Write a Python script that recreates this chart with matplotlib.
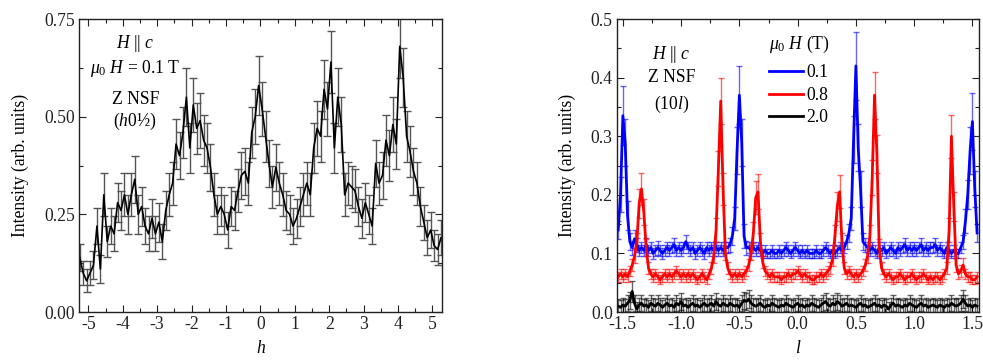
import numpy as np
import matplotlib
matplotlib.use("Agg")
import matplotlib.pyplot as plt
from matplotlib.ticker import MultipleLocator, FormatStrFormatter

plt.rcParams['font.family'] = ['Liberation Serif', 'DejaVu Serif']
plt.rcParams['mathtext.fontset'] = 'custom'
plt.rcParams['mathtext.rm'] = 'Liberation Serif'
plt.rcParams['mathtext.it'] = 'Liberation Serif:italic'
plt.rcParams['axes.unicode_minus'] = False
FS = 12.7

# ---------------- left panel data: (h 0 1/2) scan ----------------
h_start, h_step = -5.25, 0.1
left_I = [
    0.14, 0.10, 0.08, 0.10, 0.12, 0.22, 0.11, 0.30, 0.18, 0.22,
    0.20, 0.28, 0.26, 0.30, 0.25, 0.30, 0.34, 0.25, 0.27, 0.22,
    0.20, 0.24, 0.20, 0.23, 0.18, 0.26, 0.30, 0.33, 0.43, 0.40,
    0.46, 0.55, 0.42, 0.53, 0.47, 0.49, 0.44, 0.42, 0.37, 0.30,
    0.25, 0.27, 0.25, 0.21, 0.27, 0.26, 0.31, 0.35, 0.36, 0.33,
    0.46, 0.50, 0.58, 0.52, 0.45, 0.38, 0.32, 0.37, 0.33, 0.30,
    0.26, 0.25, 0.22, 0.24, 0.27, 0.30, 0.33, 0.30, 0.42, 0.47,
    0.45, 0.57, 0.52, 0.64, 0.42, 0.55, 0.48, 0.30, 0.33, 0.32,
    0.31, 0.27, 0.24, 0.28, 0.25, 0.22, 0.38, 0.33, 0.35, 0.44,
    0.40, 0.48, 0.43, 0.68, 0.60, 0.45, 0.41, 0.36, 0.33, 0.27,
    0.23, 0.19, 0.21, 0.17, 0.16, 0.19,
]
left_err = [
    0.035, 0.03, 0.03, 0.03, 0.035, 0.045, 0.035, 0.055, 0.04, 0.045,
    0.045, 0.05, 0.05, 0.055, 0.05, 0.055, 0.06, 0.05, 0.05, 0.045,
    0.045, 0.05, 0.045, 0.05, 0.045, 0.05, 0.055, 0.055, 0.065, 0.06,
    0.065, 0.075, 0.065, 0.07, 0.065, 0.07, 0.065, 0.065, 0.06, 0.055,
    0.05, 0.05, 0.05, 0.045, 0.05, 0.05, 0.055, 0.06, 0.06, 0.055,
    0.065, 0.07, 0.075, 0.07, 0.065, 0.06, 0.055, 0.06, 0.055, 0.055,
    0.05, 0.05, 0.045, 0.05, 0.05, 0.055, 0.055, 0.055, 0.065, 0.07,
    0.065, 0.075, 0.07, 0.08, 0.065, 0.075, 0.07, 0.055, 0.055, 0.055,
    0.055, 0.05, 0.05, 0.05, 0.05, 0.045, 0.06, 0.055, 0.06, 0.065,
    0.065, 0.07, 0.065, 0.08, 0.075, 0.065, 0.065, 0.06, 0.055, 0.05,
    0.045, 0.045, 0.045, 0.04, 0.04, 0.045,
]
h = np.round(h_start + h_step * np.arange(len(left_I)), 3)

# ---------------- right panel data: (1 0 l) scans ----------------
l_start, l_step = -1.54, 0.02
I_01 = [
    0.14, 0.20, 0.335, 0.29, 0.165, 0.12, 0.11, 0.125, 0.115, 0.105,
    0.11, 0.105, 0.115, 0.105, 0.11, 0.10, 0.105, 0.11, 0.105, 0.10,
    0.105, 0.11, 0.105, 0.11, 0.115, 0.105, 0.11, 0.105, 0.11, 0.12,
    0.11, 0.105, 0.11, 0.10, 0.105, 0.11, 0.105, 0.10, 0.11, 0.105,
    0.11, 0.105, 0.11, 0.105, 0.11, 0.105, 0.11, 0.11, 0.115, 0.13,
    0.16, 0.275, 0.37, 0.29, 0.13, 0.11, 0.11, 0.105, 0.11, 0.105,
    0.11, 0.105, 0.10, 0.105, 0.10, 0.10, 0.105, 0.10, 0.10, 0.105,
    0.10, 0.105, 0.11, 0.105, 0.10, 0.105, 0.11, 0.105, 0.10, 0.105,
    0.10, 0.105, 0.10, 0.10, 0.10, 0.105, 0.10, 0.10, 0.105, 0.11,
    0.105, 0.10, 0.105, 0.10, 0.105, 0.11, 0.105, 0.11, 0.12, 0.135,
    0.16, 0.295, 0.42, 0.28, 0.21, 0.12, 0.115, 0.11, 0.105, 0.11,
    0.105, 0.10, 0.11, 0.105, 0.11, 0.10, 0.105, 0.11, 0.105, 0.10,
    0.11, 0.105, 0.11, 0.115, 0.105, 0.11, 0.105, 0.11, 0.105, 0.11,
    0.115, 0.105, 0.11, 0.105, 0.11, 0.11, 0.115, 0.105, 0.11, 0.105,
    0.10, 0.11, 0.105, 0.10, 0.105, 0.10, 0.10, 0.11, 0.12, 0.155,
    0.20, 0.275, 0.325, 0.21, 0.135,
]
I_08 = [
    0.06, 0.065, 0.06, 0.065, 0.06, 0.07, 0.08, 0.095, 0.12, 0.185,
    0.21, 0.17, 0.11, 0.075, 0.065, 0.06, 0.065, 0.06, 0.055, 0.06,
    0.065, 0.06, 0.065, 0.06, 0.065, 0.07, 0.065, 0.06, 0.065, 0.06,
    0.065, 0.06, 0.065, 0.06, 0.055, 0.06, 0.065, 0.06, 0.055, 0.065,
    0.075, 0.095, 0.14, 0.245, 0.36, 0.21, 0.10, 0.075, 0.065, 0.06,
    0.065, 0.06, 0.065, 0.06, 0.065, 0.07, 0.08, 0.10, 0.135, 0.195,
    0.205, 0.12, 0.085, 0.07, 0.065, 0.06, 0.065, 0.06, 0.06, 0.06,
    0.055, 0.06, 0.06, 0.065, 0.06, 0.065, 0.065, 0.07, 0.065, 0.06,
    0.065, 0.06, 0.06, 0.055, 0.055, 0.06, 0.06, 0.065, 0.06, 0.065,
    0.07, 0.075, 0.09, 0.13, 0.18, 0.205, 0.12, 0.075, 0.065, 0.07,
    0.065, 0.06, 0.065, 0.06, 0.065, 0.07, 0.08, 0.095, 0.13, 0.23,
    0.37, 0.27, 0.11, 0.075, 0.065, 0.06, 0.065, 0.06, 0.055, 0.06,
    0.06, 0.065, 0.06, 0.055, 0.06, 0.06, 0.065, 0.06, 0.055, 0.06,
    0.06, 0.065, 0.06, 0.055, 0.06, 0.055, 0.06, 0.06, 0.055, 0.06,
    0.065, 0.075, 0.14, 0.30, 0.18, 0.08, 0.065, 0.07, 0.08, 0.065,
    0.06, 0.06, 0.055, 0.055, 0.06,
]
I_20 = [
    0.01, 0.008, 0.012, 0.01, 0.015, 0.02, 0.035, 0.015, 0.005, 0.012,
    0.015, 0.01, 0.012, 0.008, 0.015, 0.012, 0.01, 0.015, 0.012, 0.008,
    0.012, 0.015, 0.01, 0.012, 0.008, 0.015, 0.012, 0.018, 0.01, 0.012,
    0.008, 0.012, 0.015, 0.01, 0.012, 0.008, 0.012, 0.015, 0.01, 0.012,
    0.015, 0.01, 0.018, 0.012, 0.01, 0.015, 0.012, 0.01, 0.015, 0.012,
    0.01, 0.012, 0.008, 0.015, 0.02, 0.018, 0.022, 0.015, 0.012, 0.01,
    0.012, 0.015, 0.01, 0.008, 0.012, 0.01, 0.015, 0.012, 0.01, 0.008,
    0.012, 0.01, 0.015, 0.012, 0.01, 0.008, 0.012, 0.015, 0.01, 0.012,
    0.008, 0.012, 0.01, 0.015, 0.012, 0.01, 0.008, 0.012, 0.015, 0.018,
    0.012, 0.01, 0.015, 0.012, 0.018, 0.015, 0.01, 0.012, 0.015, 0.01,
    0.012, 0.01, 0.008, 0.012, 0.015, 0.01, 0.012, 0.008, 0.01, 0.012,
    0.015, 0.01, 0.012, 0.008, 0.012, 0.01, 0.005, 0.012, 0.015, 0.01,
    0.012, 0.01, 0.008, 0.012, 0.01, 0.015, 0.012, 0.01, 0.008, 0.012,
    0.015, 0.01, 0.012, 0.008, 0.01, 0.012, 0.01, 0.008, 0.012, 0.01,
    0.008, 0.012, 0.01, 0.015, 0.012, 0.01, 0.012, 0.015, 0.022, 0.015,
    0.01, 0.012, 0.008, 0.012, 0.01,
]
E_01 = [
    0.015, 0.03, 0.05, 0.04, 0.025, 0.015, 0.012, 0.015, 0.012, 0.01,
    0.01, 0.01, 0.012, 0.01, 0.01, 0.01, 0.01, 0.012, 0.01, 0.01,
    0.01, 0.01, 0.01, 0.01, 0.012, 0.01, 0.01, 0.01, 0.01, 0.012,
    0.01, 0.01, 0.01, 0.01, 0.01, 0.01, 0.01, 0.01, 0.01, 0.01,
    0.01, 0.01, 0.01, 0.01, 0.01, 0.01, 0.01, 0.01, 0.012, 0.015,
    0.02, 0.04, 0.05, 0.04, 0.02, 0.012, 0.01, 0.01, 0.01, 0.01,
    0.01, 0.01, 0.008, 0.01, 0.008, 0.008, 0.01, 0.008, 0.008, 0.01,
    0.008, 0.01, 0.01, 0.01, 0.008, 0.01, 0.01, 0.01, 0.008, 0.01,
    0.008, 0.01, 0.008, 0.008, 0.008, 0.01, 0.008, 0.008, 0.01, 0.01,
    0.01, 0.008, 0.01, 0.008, 0.01, 0.01, 0.01, 0.01, 0.012, 0.015,
    0.02, 0.04, 0.058, 0.04, 0.03, 0.015, 0.012, 0.01, 0.01, 0.01,
    0.01, 0.008, 0.01, 0.01, 0.01, 0.008, 0.01, 0.01, 0.01, 0.008,
    0.01, 0.01, 0.01, 0.012, 0.01, 0.01, 0.01, 0.01, 0.01, 0.01,
    0.012, 0.01, 0.01, 0.01, 0.01, 0.01, 0.012, 0.01, 0.01, 0.01,
    0.008, 0.01, 0.01, 0.008, 0.01, 0.008, 0.008, 0.01, 0.012, 0.02,
    0.025, 0.04, 0.048, 0.03, 0.015,
]
E_08 = [
    0.008, 0.008, 0.008, 0.008, 0.008, 0.008, 0.01, 0.012, 0.015, 0.025,
    0.028, 0.022, 0.015, 0.01, 0.008, 0.008, 0.008, 0.008, 0.008, 0.008,
    0.008, 0.008, 0.008, 0.008, 0.008, 0.008, 0.008, 0.008, 0.008, 0.008,
    0.008, 0.008, 0.008, 0.008, 0.008, 0.008, 0.008, 0.008, 0.008, 0.008,
    0.01, 0.012, 0.02, 0.03, 0.04, 0.028, 0.012, 0.01, 0.008, 0.008,
    0.008, 0.008, 0.008, 0.008, 0.008, 0.008, 0.01, 0.012, 0.018, 0.028,
    0.03, 0.015, 0.01, 0.008, 0.008, 0.008, 0.008, 0.008, 0.008, 0.008,
    0.008, 0.008, 0.008, 0.008, 0.008, 0.008, 0.008, 0.008, 0.008, 0.008,
    0.008, 0.008, 0.008, 0.008, 0.008, 0.008, 0.008, 0.008, 0.008, 0.008,
    0.008, 0.01, 0.012, 0.018, 0.025, 0.028, 0.015, 0.01, 0.008, 0.008,
    0.008, 0.008, 0.008, 0.008, 0.008, 0.008, 0.01, 0.012, 0.018, 0.03,
    0.04, 0.032, 0.015, 0.01, 0.008, 0.008, 0.008, 0.008, 0.008, 0.008,
    0.008, 0.008, 0.008, 0.008, 0.008, 0.008, 0.008, 0.008, 0.008, 0.008,
    0.008, 0.008, 0.008, 0.008, 0.008, 0.008, 0.008, 0.008, 0.008, 0.008,
    0.008, 0.01, 0.02, 0.037, 0.025, 0.012, 0.008, 0.01, 0.012, 0.008,
    0.008, 0.008, 0.008, 0.008, 0.008,
]
E_20 = [
    0.012, 0.012, 0.012, 0.012, 0.014, 0.015, 0.018, 0.014, 0.012, 0.012,
    0.014, 0.012, 0.012, 0.012, 0.014, 0.012, 0.012, 0.014, 0.012, 0.012,
    0.012, 0.014, 0.012, 0.012, 0.012, 0.014, 0.012, 0.015, 0.012, 0.012,
    0.012, 0.012, 0.014, 0.012, 0.012, 0.012, 0.012, 0.014, 0.012, 0.012,
    0.014, 0.012, 0.015, 0.012, 0.012, 0.014, 0.012, 0.012, 0.014, 0.012,
    0.012, 0.012, 0.012, 0.014, 0.015, 0.015, 0.016, 0.014, 0.012, 0.012,
    0.012, 0.014, 0.012, 0.012, 0.012, 0.012, 0.014, 0.012, 0.012, 0.012,
    0.012, 0.012, 0.014, 0.012, 0.012, 0.012, 0.012, 0.014, 0.012, 0.012,
    0.012, 0.012, 0.012, 0.014, 0.012, 0.012, 0.012, 0.012, 0.014, 0.015,
    0.012, 0.012, 0.014, 0.012, 0.015, 0.014, 0.012, 0.012, 0.014, 0.012,
    0.012, 0.012, 0.012, 0.012, 0.014, 0.012, 0.012, 0.012, 0.012, 0.012,
    0.014, 0.012, 0.012, 0.012, 0.012, 0.012, 0.012, 0.012, 0.014, 0.012,
    0.012, 0.012, 0.012, 0.012, 0.012, 0.014, 0.012, 0.012, 0.012, 0.012,
    0.014, 0.012, 0.012, 0.012, 0.012, 0.012, 0.012, 0.012, 0.012, 0.012,
    0.012, 0.012, 0.012, 0.014, 0.012, 0.012, 0.012, 0.014, 0.016, 0.014,
    0.012, 0.012, 0.012, 0.012, 0.012,
]
l = np.round(l_start + l_step * np.arange(len(I_01)), 3)
field_labels = ['0.1', '0.8', '2.0']
field_colors = ['#0000ff', '#ff0000', '#000000']

# ---------------- figure ----------------
fig = plt.figure(figsize=(9.83, 3.6), dpi=100)
axL = fig.add_axes([0.0804, 0.1333, 0.3693, 0.8139])
axR = fig.add_axes([0.6277, 0.1333, 0.3683, 0.8139])


def style(ax):
    ax.tick_params(which='both', direction='in', top=True, right=True,
                   labelsize=FS, width=0.8, colors='#222222')
    ax.tick_params(which='major', length=5, pad=3)
    ax.tick_params(which='minor', length=3)
    for s in ax.spines.values():
        s.set_linewidth(1.0)
        s.set_color('#222222')


# left
axL.errorbar(h, left_I, yerr=left_err, color='black', lw=1.2,
             ecolor='#555555', elinewidth=1.0, capsize=3, capthick=1.0, zorder=2)
axL.set_xlim(-5.27, 5.28)
axL.set_ylim(0, 0.75)
axL.xaxis.set_major_locator(MultipleLocator(1))
axL.xaxis.set_minor_locator(MultipleLocator(0.5))
axL.yaxis.set_major_locator(MultipleLocator(0.25))
axL.yaxis.set_minor_locator(MultipleLocator(0.125))
axL.yaxis.set_major_formatter(FormatStrFormatter('%.2f'))
style(axL)
axL.set_ylabel('Intensity (arb. units)', fontsize=FS, labelpad=11)
axL.set_xlabel('$h$', fontsize=FS, labelpad=5)
tx = 0.155
axL.text(tx, 0.915, '$H$ || $c$', transform=axL.transAxes, ha='center', va='center', fontsize=FS)
axL.text(tx, 0.83, r'$\mu_0$ $H$ = 0.1 T', transform=axL.transAxes, ha='center', va='center', fontsize=FS)
axL.text(tx, 0.725, 'Z NSF', transform=axL.transAxes, ha='center', va='center', fontsize=FS)
axL.text(tx, 0.65, '($h$0½)', transform=axL.transAxes, ha='center', va='center', fontsize=FS)

# right
series = [(I_01, E_01), (I_08, E_08), (I_20, E_20)]
handles = []
for (vals, errs), lab, col in zip(series, field_labels, field_colors):
    eb = axR.errorbar(l, vals, yerr=errs, color=col, lw=2.0, ecolor=col,
                      elinewidth=1.0, capsize=2.5, capthick=1.0, zorder=2)
    for c in eb[1]:
        c.set_alpha(0.6)
    for c in eb[2]:
        c.set_alpha(0.6)
    handles.append(plt.Line2D([], [], color=col, lw=2.0, label=lab))
axR.set_xlim(-1.55, 1.557)
axR.set_ylim(0, 0.5)
axR.xaxis.set_major_locator(MultipleLocator(0.5))
axR.xaxis.set_minor_locator(MultipleLocator(0.25))
axR.yaxis.set_major_locator(MultipleLocator(0.1))
axR.yaxis.set_minor_locator(MultipleLocator(0.05))
axR.xaxis.set_major_formatter(FormatStrFormatter('%.1f'))
axR.yaxis.set_major_formatter(FormatStrFormatter('%.1f'))
style(axR)
axR.set_ylabel('Intensity (arb. units)', fontsize=FS, labelpad=11)
axR.set_xlabel('$l$', fontsize=FS, labelpad=5)
tx = 0.15
axR.text(tx, 0.88, '$H$ || $c$', transform=axR.transAxes, ha='center', va='center', fontsize=FS)
axR.text(tx, 0.80, 'Z NSF', transform=axR.transAxes, ha='center', va='center', fontsize=FS)
axR.text(tx, 0.71, '(10$l$)', transform=axR.transAxes, ha='center', va='center', fontsize=FS)
leg = axR.legend(handles=handles, title=r'$\mu_0$ $H$ (T)', loc='upper left',
                 bbox_to_anchor=(0.42, 0.935), frameon=False, fontsize=FS,
                 title_fontsize=FS, handlelength=1.9, handletextpad=0.2,
                 labelspacing=0.3, borderpad=0, borderaxespad=0)
leg.get_title().set_position((0, 4))
leg._legend_box.align = 'left'

fig.savefig('out.png', dpi=100)
